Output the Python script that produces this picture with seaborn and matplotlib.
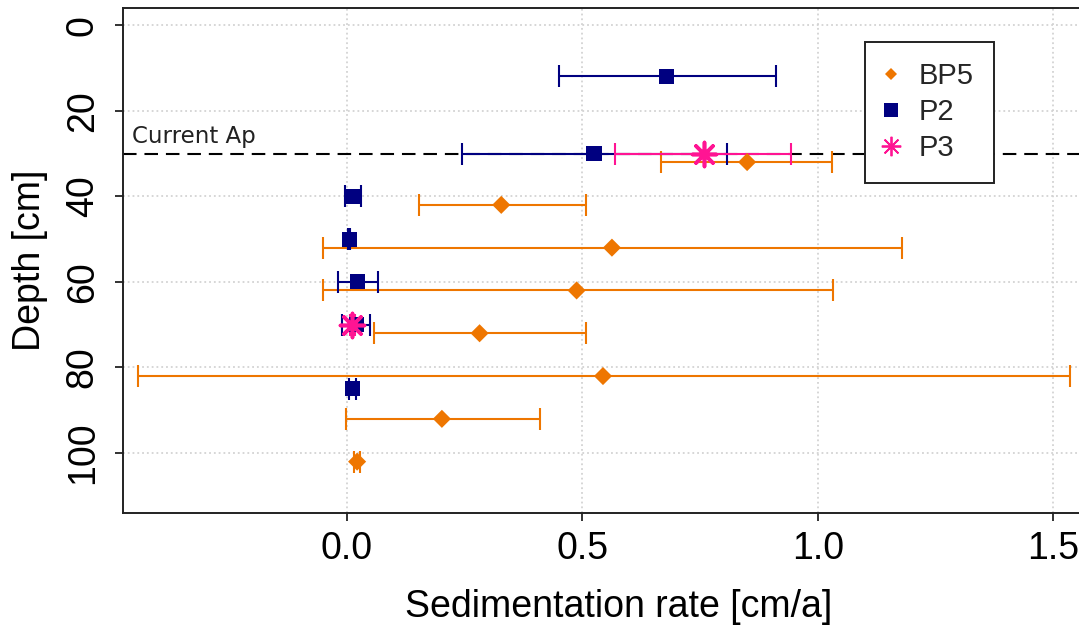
import matplotlib
matplotlib.use("Agg")
import matplotlib.pyplot as plt
from matplotlib.lines import Line2D
import numpy as np
import pandas as pd
import seaborn as sns

# Sedimentation rates [cm/a] with depth [cm] for three profiles
bp5_depth = [32, 42, 52, 62, 72, 82, 92, 102]
bp5_rate = [0.850, 0.328, 0.563, 0.488, 0.282, 0.544, 0.202, 0.022]
bp5_low = [0.668, 0.154, -0.051, -0.051, 0.057, -0.444, -0.001, 0.016]
bp5_high = [1.031, 0.507, 1.178, 1.032, 0.507, 1.535, 0.410, 0.028]

p2_depth = [12, 30, 40, 50, 60, 70, 85]
p2_rate = [0.678, 0.525, 0.013, 0.005, 0.022, 0.020, 0.012]
p2_low = [0.451, 0.245, -0.003, 0.003, -0.019, -0.010, 0.004]
p2_high = [0.912, 0.808, 0.030, 0.007, 0.066, 0.050, 0.020]

p3_depth = [30, 70]
p3_rate = [0.758, 0.012]
p3_low = [0.570, 0.007]
p3_high = [0.944, 0.017]

current_ap_depth = 30

x_ticks = [0.0, 0.5, 1.0, 1.5]
x_tick_labels = ["0.0", "0.5", "1.0", "1.5"]
y_ticks = [0, 20, 40, 60, 80, 100]

sns.set_theme(style="white")
plt.rcParams["font.family"] = ["Liberation Sans", "DejaVu Sans"]

fig = plt.figure(figsize=(10.79, 6.28), dpi=100)
# plot region runs slightly past the right edge of the canvas
ax = fig.add_axes([123 / 1079, 1 - 513 / 628, (1115 - 123) / 1079, (513 - 8) / 628])

ax.set_xlim(-0.475, 1.631)
ax.set_ylim(114, -4)

ax.set_xticks(x_ticks)
ax.set_xticklabels(x_tick_labels)
ax.set_yticks(y_ticks)
ax.set_yticklabels([str(v) for v in y_ticks], rotation=90, va="center")
ax.grid(True, color="#D3D3D3", linestyle=":", linewidth=1.3)
ax.set_axisbelow(True)

for sp in ax.spines.values():
    sp.set_color("#222222")
    sp.set_linewidth(1.4)

ax.tick_params(axis="both", direction="out", length=6, width=1.3, color="#222222",
               labelsize=27, labelcolor="black", bottom=True, left=True)
ax.tick_params(axis="x", pad=7)
ax.tick_params(axis="y", pad=10)

ax.axhline(current_ap_depth, color="black", linewidth=1.5,
           linestyle=(0, (6.5, 3.8)), zorder=1)
ax.text(-0.455, current_ap_depth - 1.2, "Current Ap", family="DejaVu Sans",
        fontsize=16.5, color="#222222", va="bottom", ha="left")

series = [
    ("BP5", bp5_depth, bp5_rate, bp5_low, bp5_high, "#EE7600", "D", 85, 0),
    ("P2", p2_depth, p2_rate, p2_low, p2_high, "#000080", "s", 118, 0),
    ("P3", p3_depth, p3_rate, p3_low, p3_high, "#FF1493", (8, 2, 0), 300, 2.6),
]

for name, depth, rate, low, high, col, mk, size, lw in series:
    rate_a = np.asarray(rate)
    err = np.vstack([rate_a - np.asarray(low), np.asarray(high) - rate_a])
    ax.errorbar(rate, depth, xerr=err, fmt="none", ecolor=col, elinewidth=1.5,
                capsize=8, capthick=1.5, zorder=2)
    df = pd.DataFrame({"rate": rate, "depth": depth})
    if lw > 0:
        sns.scatterplot(data=df, x="rate", y="depth", marker=mk, s=size,
                        color=col, linewidth=lw, ax=ax, zorder=3, legend=False)
    else:
        sns.scatterplot(data=df, x="rate", y="depth", marker=mk, s=size,
                        color=col, edgecolor="none", linewidth=0, ax=ax,
                        zorder=3, legend=False)

ax.set_xlabel("Sedimentation rate [cm/a]", fontsize=27, labelpad=16, color="black")
ax.set_ylabel("Depth [cm]", fontsize=27, labelpad=12, color="black")

handles = [
    Line2D([], [], linestyle="none", marker="D", markersize=6.2,
           color="#EE7600", markeredgewidth=0),
    Line2D([], [], linestyle="none", marker="s", markersize=9.4,
           color="#000080", markeredgewidth=0),
    Line2D([], [], linestyle="none", marker=(8, 2, 0), markersize=14,
           color="#FF1493", markeredgewidth=1.3),
]
leg = ax.legend(handles, ["BP5", "P2", "P3"], loc="upper left",
                bbox_to_anchor=(865 / 1079, 1 - 42 / 628),
                bbox_transform=fig.transFigure, borderaxespad=0,
                fontsize=21, frameon=True, fancybox=False, framealpha=1,
                edgecolor="#222222", handlelength=0.38, handletextpad=0.75,
                labelspacing=0.27, borderpad=0.7)
leg.get_frame().set_linewidth(1.4)

fig.savefig("out.png", dpi=100)
